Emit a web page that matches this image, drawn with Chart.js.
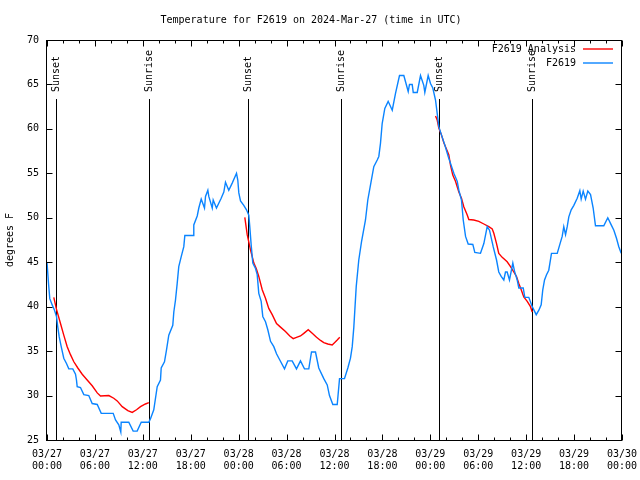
<!DOCTYPE html>
<meta charset="UTF-8">
<style>
  body { margin: 0; background: #fff; }
</style>

<canvas id="myChart" width="640" height="480"></canvas>

<script src="https://cdn.jsdelivr.net/npm/chart.js@4.4.0/dist/chart.umd.min.js"></script>

<script>
  // hours since 03/27 00:00 UTC
  const obsHours = [0.0, 0.19, 0.35, 0.65, 0.94, 1.19, 1.35, 1.53, 1.78, 2.10, 2.44, 2.73, 3.23, 3.57, 3.69, 3.78,
    4.19, 4.61, 5.23, 5.66, 6.29, 6.79, 8.29, 8.58, 8.99, 9.24, 9.29, 10.24, 10.79, 11.29, 11.80, 12.75,
    12.96, 13.37, 13.80, 14.21, 14.30, 14.71, 14.96, 15.25, 15.75, 15.88, 16.09, 16.30, 16.50, 16.80, 17.13, 17.26,
    18.31, 18.38, 18.81, 19.01, 19.31, 19.72, 19.85, 20.14, 20.26, 20.69, 20.81, 21.22, 21.81, 22.14, 22.35, 22.76,
    23.19, 23.73, 23.89, 24.02, 24.23, 24.64, 24.98, 25.27, 25.39, 25.57, 25.77, 26.11, 26.32, 26.52, 26.82, 27.02,
    27.36, 27.65, 27.99, 28.40, 28.74, 29.15, 29.74, 30.15, 30.70, 31.24, 31.74, 32.24, 32.78, 33.12, 33.62, 34.03,
    34.66, 35.09, 35.37, 35.79, 36.34, 36.63, 37.25, 37.67, 38.00, 38.22, 38.42, 38.72, 39.04, 39.38, 39.88, 40.17,
    40.51, 40.92, 41.35, 41.55, 41.76, 41.97, 42.30, 42.72, 43.23, 43.64, 44.14, 44.68, 45.23, 45.39, 45.73, 45.86,
    46.36, 46.77, 47.18, 47.31, 47.73, 48.02, 48.31, 48.65, 48.86, 49.06, 49.40, 49.81, 50.24, 50.53, 50.94, 51.37,
    51.57, 51.90, 52.12, 52.41, 52.74, 53.32, 53.57, 54.28, 54.70, 55.12, 55.41, 55.87, 56.29, 56.57, 56.87, 57.20,
    57.41, 57.62, 57.91, 58.33, 58.54, 58.88, 59.08, 59.63, 59.83, 60.33, 60.76, 61.26, 61.59, 61.88, 62.08, 62.30,
    62.55, 62.83, 63.17, 63.89, 64.18, 64.51, 64.71, 64.93, 65.14, 65.34, 65.64, 65.97, 66.39, 66.72, 66.89, 67.14,
    67.43, 67.72, 68.06, 68.39, 68.68, 69.72, 70.22, 70.65, 70.98, 71.31, 71.60, 71.90];
  const obsTemps = [45.0, 42.6, 40.9, 40.2, 39.6, 38.9, 37.7, 36.6, 35.5, 34.2, 33.6, 33.0, 33.0, 32.4, 31.75, 31.0,
    30.9, 30.1, 30.0, 29.1, 29.0, 28.0, 28.0, 27.25, 26.7, 25.9, 27.0, 27.0, 26.0, 26.0, 27.0, 27.0,
    27.4, 28.4, 31.0, 31.75, 33.1, 33.8, 35.1, 36.8, 37.9, 39.4, 40.75, 42.6, 44.5, 45.6, 46.75, 48.0,
    48.0, 49.2, 50.2, 51.1, 52.1, 51.1, 52.4, 53.1, 52.4, 51.1, 52.0, 51.1, 52.2, 52.9, 54.0, 53.1,
    53.9, 55.0, 54.25, 52.8, 51.9, 51.4, 50.9, 50.3, 49.0, 46.9, 44.9, 44.3, 43.6, 41.5, 40.6, 38.9,
    38.3, 37.4, 36.1, 35.5, 34.7, 34.0, 33.0, 33.9, 33.9, 33.0, 33.9, 33.0, 33.0, 34.9, 34.9, 33.1,
    31.9, 31.2, 30.0, 29.0, 29.0, 31.9, 31.9, 33.1, 34.2, 35.5, 37.7, 42.25, 45.25, 47.3, 49.75, 52.0,
    53.7, 55.75, 56.5, 56.9, 58.4, 60.6, 62.3, 63.1, 62.1, 64.0, 66.0, 66.0, 64.2, 65.0, 65.0, 64.1,
    64.1, 66.0, 64.9, 64.1, 66.0, 65.1, 64.6, 63.25, 61.75, 60.25, 59.3, 58.2, 56.9, 56.1, 55.0, 54.1,
    53.1, 52.0, 49.75, 47.9, 47.05, 47.0, 46.1, 46.0, 47.1, 49.0, 48.6, 46.75, 45.25, 43.9, 43.4, 43.0,
    43.9, 43.9, 43.0, 44.9, 44.0, 43.0, 42.1, 42.1, 41.05, 41.05, 40.0, 39.1, 39.6, 40.2, 41.9, 43.0,
    43.6, 44.1, 46.0, 46.0, 46.9, 47.9, 49.0, 48.1, 49.0, 50.1, 50.9, 51.4, 52.2, 53.05, 52.1, 53.0,
    52.1, 53.0, 52.6, 51.1, 49.1, 49.1, 50.0, 49.2, 48.6, 47.7, 46.75, 46.0];

  // analysis runs, null breaks the line between nights
  const anaHours = [0.85, 1.19, 1.69, 2.10, 2.53, 2.94, 3.36, 3.86, 4.41, 5.03, 5.66, 6.29, 6.70, 7.74, 8.36, 8.79,
    9.42, 10.12, 10.67, 11.21, 11.71, 12.33, 12.75,
    18,
    24.77, 25.07, 25.48, 25.90, 26.20, 26.52, 26.95, 27.36, 27.77, 28.20, 28.74, 29.24, 29.86, 30.40, 30.83, 31.24,
    31.74, 32.16, 32.71, 33.21, 33.75, 34.25, 34.66, 35.16, 35.71, 36.00, 36.34, 36.66,
    42,
    48.65, 48.86, 49.06, 49.40, 49.69, 49.99, 50.31, 50.53, 50.81, 51.15, 51.57, 51.90, 52.19, 52.62, 52.82, 53.44,
    54.07, 54.70, 55.32, 55.75, 55.95, 56.29, 56.57, 57.00, 57.62, 58.04, 58.45, 58.79, 59.08, 59.38, 59.70, 60.13,
    60.54, 60.76];
  const anaTemps = [41.05, 39.7, 38.1, 36.8, 35.5, 34.6, 33.8, 33.1, 32.4, 31.75, 31.1, 30.3, 29.95, 30.0, 29.7, 29.4,
    28.75, 28.3, 28.1, 28.4, 28.75, 29.05, 29.2,
    null,
    50.05, 48.1, 46.4, 44.9, 44.3, 43.4, 41.9, 40.95, 39.8, 39.1, 38.1, 37.7, 37.2, 36.7, 36.4, 36.55,
    36.7, 37.0, 37.4, 37.0, 36.55, 36.2, 35.95, 35.8, 35.7, 35.95, 36.25, 36.55,
    null,
    61.45, 61.0, 60.1, 59.3, 58.45, 57.8, 57.1, 55.9, 54.8, 54.1, 52.9, 52.2, 51.25, 50.3, 49.8, 49.75,
    49.6, 49.3, 49.0, 48.75, 48.25, 47.1, 46.0, 45.55, 45.05, 44.5, 43.9, 43.4, 42.6, 41.9, 41.1, 40.6,
    40.0, 39.4];

  const sunHours = [1.13, 12.77, 25.2, 36.81, 49.13, 60.77];
  const sunLabels = ['Sunset', 'Sunrise', 'Sunset', 'Sunrise', 'Sunset', 'Sunrise'];

  const xTickDates = ['03/27', '03/27', '03/27', '03/27', '03/28', '03/28', '03/28', '03/28', '03/29', '03/29', '03/29', '03/29', '03/30'];
  const xTickTimes = ['00:00', '06:00', '12:00', '18:00', '00:00', '06:00', '12:00', '18:00', '00:00', '06:00', '12:00', '18:00', '00:00'];

  const FONT = "'DejaVu Sans Mono', 'Liberation Mono', monospace";
  Chart.defaults.font.family = FONT;
  Chart.defaults.font.size = 10;
  Chart.defaults.color = '#000';

  const toPoints = (xs, ys) => xs.map((h, i) => ({x: h, y: ys[i]}));

  // gnuplot style box, inward ticks, sun markers and legend
  const gnuFrame = {
    id: 'gnuFrame',
    beforeDatasetsDraw(chart) {
      const {ctx, chartArea: a, scales: {x}} = chart;
      ctx.save();
      ctx.strokeStyle = '#000';
      ctx.fillStyle = '#000';
      ctx.lineWidth = 1;
      ctx.font = '10px ' + FONT;
      sunHours.forEach((h, i) => {
        const px = Math.round(x.getPixelForValue(h)) + 0.5;
        ctx.beginPath();
        ctx.moveTo(px, a.top + 59);
        ctx.lineTo(px, a.bottom);
        ctx.stroke();
        ctx.save();
        ctx.translate(px, a.top + 52);
        ctx.rotate(-Math.PI / 2);
        ctx.textAlign = 'left';
        ctx.textBaseline = 'middle';
        ctx.fillText(sunLabels[i], 0, 0);
        ctx.restore();
      });
      ctx.restore();
    },
    afterDatasetsDraw(chart) {
      const {ctx, chartArea: a, scales: {x, y}} = chart;
      const L = Math.round(a.left) - 0.5, R = Math.round(a.right) - 0.5;
      const T = Math.round(a.top) + 0.5, B = Math.round(a.bottom) + 0.5;
      ctx.save();
      ctx.strokeStyle = '#000';
      ctx.lineWidth = 1;
      ctx.strokeRect(L, T, R - L, B - T);
      ctx.beginPath();
      for (let h = 0; h <= 72; h += 2) {
        const px = Math.round(x.getPixelForValue(h)) + 0.5;
        const len = h % 6 === 0 ? 6 : 3;
        ctx.moveTo(px, B); ctx.lineTo(px, B - len);
        ctx.moveTo(px, T); ctx.lineTo(px, T + len);
      }
      for (let v = 25; v <= 70; v += 5) {
        const py = Math.round(y.getPixelForValue(v)) + 0.5;
        ctx.moveTo(L, py); ctx.lineTo(L + 6, py);
        ctx.moveTo(R, py); ctx.lineTo(R - 6, py);
      }
      ctx.stroke();

      // legend, top right inside the plot
      ctx.font = '10px ' + FONT;
      ctx.textAlign = 'right';
      ctx.textBaseline = 'middle';
      chart.data.datasets.forEach((ds, i) => {
        const ly = Math.round(a.top) + 9 + i * 14;
        ctx.fillStyle = '#000';
        ctx.fillText(ds.label, a.right - 46, ly);
        ctx.strokeStyle = ds.borderColor;
        ctx.lineWidth = 1.4;
        ctx.beginPath();
        ctx.moveTo(a.right - 39, ly);
        ctx.lineTo(a.right - 9, ly);
        ctx.stroke();
      });
      ctx.restore();
    }
  };

  const data = {
    datasets: [
      {
        label: 'F2619 Analysis',
        data: toPoints(anaHours, anaTemps),
        borderColor: '#ff0000',
        borderWidth: 1.4,
        pointRadius: 0,
        spanGaps: false,
        order: 1,
      },
      {
        label: 'F2619',
        data: toPoints(obsHours, obsTemps),
        borderColor: '#0a84ff',
        borderWidth: 1.4,
        pointRadius: 0,
        order: 0,
      }
    ]
  };

  const config = {
    type: 'line',
    data: data,
    options: {
      responsive: false,
      animation: false,
      layout: {padding: {left: 0, right: 18, top: 0, bottom: 0}},
      plugins: {
        legend: {display: false},
        tooltip: {enabled: false},
        title: {
          display: true,
          text: 'Temperature for F2619 on 2024-Mar-27 (time in UTC)',
          font: {size: 10, weight: 'normal'},
          padding: {top: 14, bottom: 14},
        },
      },
      scales: {
        x: {
          type: 'linear',
          min: 0,
          max: 72,
          grid: {display: false},
          border: {display: false},
          ticks: {
            stepSize: 6,
            autoSkip: false,
            maxRotation: 0,
            padding: 0,
            callback: (v) => {
              const i = Math.round(v / 6);
              return [xTickDates[i], xTickTimes[i]];
            },
          },
          afterFit: (s) => {
            s.height = 40;
            s.paddingLeft = 0;
            s.paddingRight = 0;
          },
        },
        y: {
          min: 25,
          max: 70,
          grid: {display: false},
          border: {display: false},
          ticks: {stepSize: 5, padding: 0},
          title: {
            display: true,
            text: 'degrees F',
            padding: {top: 4, bottom: 0},
          },
          afterFit: (s) => {
            s.width = 47;
            s.paddingTop = 0;
            s.paddingBottom = 0;
          },
        },
      }
    },
    plugins: [gnuFrame],
  };

  new Chart(document.getElementById('myChart'), config);
</script>
